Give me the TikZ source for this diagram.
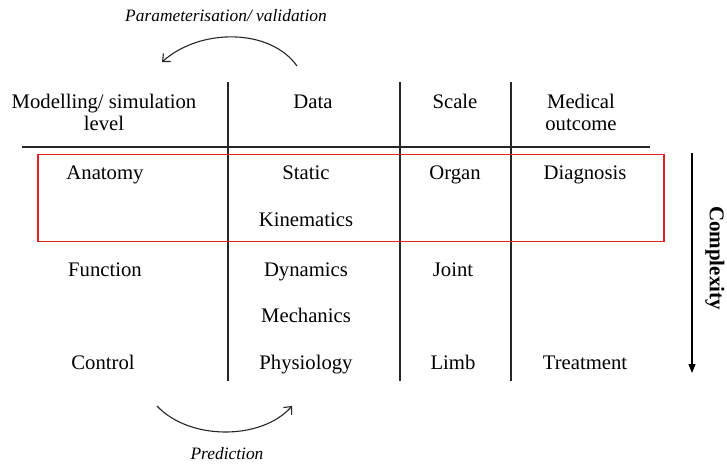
\documentclass[tikz,border=0pt]{standalone}
\usepackage{fontspec}
\setmainfont{Liberation Serif}
\usetikzlibrary{arrows.meta}
\definecolor{boxred}{RGB}{228,32,38}
\begin{document}
\begin{tikzpicture}[x=1pt,y=-1pt,
  cell/.style={font=\fontsize{20.7}{22.5}\selectfont, align=center, inner sep=0pt, anchor=base},
  captxt/.style={font=\fontsize{17.4}{20}\selectfont\itshape, inner sep=0pt, anchor=base},
  gridrule/.style={line width=1.3pt, draw=black!85},
  curvearrow/.style={line width=1.1pt, draw=black!85, -{Straight Barb[length=6pt,width=11pt,line width=1.1pt]}}]
\useasboundingbox (0,0) rectangle (727,466);
% captions
\node[captxt] (param) at (226,21) {Parameterisation/ validation};
\node[captxt] (pred) at (227,459) {Prediction};
% header (two-line nodes anchored at the base of their last line)
\node[cell] (h1) at (104,130.5) {Modelling/ simulation\\level};
\node[cell] (h2) at (313,108) {Data};
\node[cell] (h3) at (455,108) {Scale};
\node[cell] (h4) at (581,130.5) {Medical\\outcome};
% rows
\node[cell] (anat) at (105,179) {Anatomy};
\node[cell] (stat) at (306,179) {Static};
\node[cell] (organ) at (455,179) {Organ};
\node[cell] (diag) at (585,179) {Diagnosis};
\node[cell] (kin) at (306,226) {Kinematics};
\node[cell] (func) at (105,276) {Function};
\node[cell] (dyn) at (306,276) {Dynamics};
\node[cell] (joint) at (453,276) {Joint};
\node[cell] (mech) at (306,322) {Mechanics};
\node[cell] (ctrl) at (103,369) {Control};
\node[cell] (phys) at (306,369) {Physiology};
\node[cell] (limb) at (453,369) {Limb};
\node[cell] (treat) at (585,369) {Treatment};
% grid lines
\coordinate (v1t) at (228,82); \coordinate (v1b) at (228,381);
\coordinate (v2t) at (400,82); \coordinate (v2b) at (400,381);
\coordinate (v3t) at (511,82); \coordinate (v3b) at (511,381);
\coordinate (hl) at (22,147); \coordinate (hr) at (650,147);
\draw[gridrule] (v1t) -- (v1b);
\draw[gridrule] (v2t) -- (v2b);
\draw[gridrule] (v3t) -- (v3b);
\draw[gridrule] (hl) -- (hr);
% red box
\node[draw=boxred, line width=1.3pt, minimum width=626pt, minimum height=87pt, inner sep=0pt] (redbox) at (351,198) {};
% complexity arrow
\coordinate (ct) at (692,153); \coordinate (cb) at (692,373);
\draw[line width=1.1pt, -{Triangle[length=9pt,width=7pt]}] (ct) -- (cb);
\node[font=\fontsize{21}{24}\selectfont\bfseries, rotate=-90, inner sep=0pt] (compl) at (715,258) {Complexity};
% curved arrows
\coordinate (a1s) at (297,66); \coordinate (a1e) at (162,62);
\draw[curvearrow] (a1s) .. controls (270,28) and (200,28) .. (a1e);
\coordinate (a2s) at (157,406); \coordinate (a2e) at (292,406);
\draw[curvearrow] (a2s) .. controls (190,441) and (262,440) .. (a2e);
\end{tikzpicture}
\end{document}
